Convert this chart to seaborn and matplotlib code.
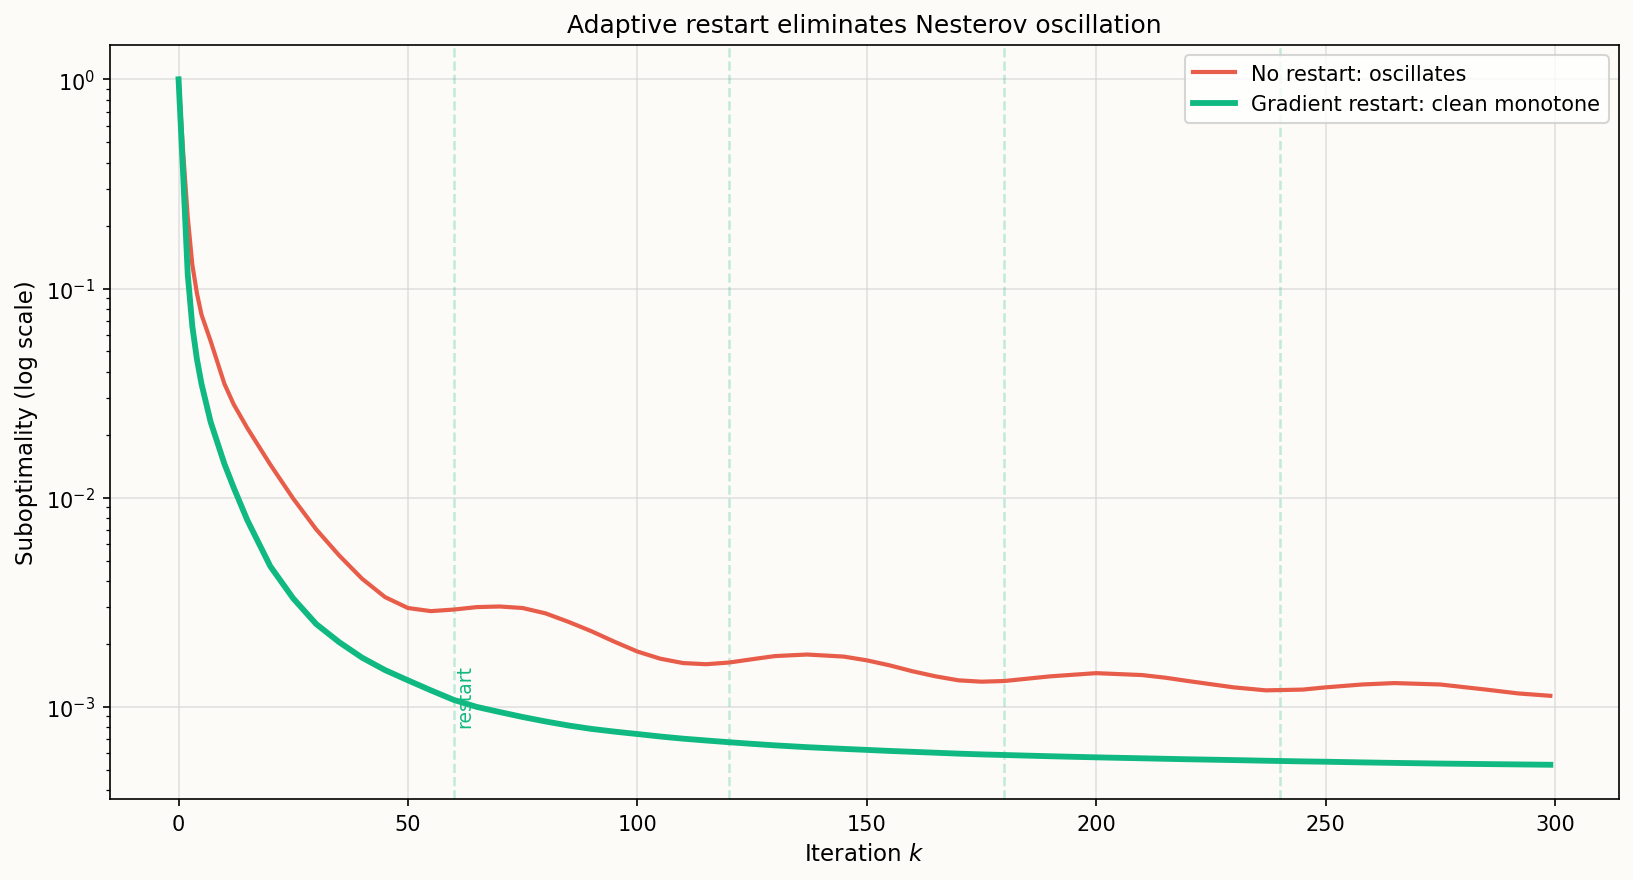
import matplotlib
matplotlib.use("Agg")
import matplotlib.pyplot as plt
import seaborn as sns

# iterations
k = [0, 1, 2, 3, 4, 5, 7, 10, 12, 15, 20, 25, 30, 35, 40, 45, 50, 55, 60, 65,
     70, 75, 80, 85, 90, 95, 100, 105, 110, 115, 120, 125, 130, 137, 145, 150,
     155, 160, 165, 170, 175, 180, 190, 200, 210, 215, 220, 230, 237, 245, 250,
     258, 265, 275, 285, 292, 299]

no_restart = [1.0, 0.45, 0.22, 0.13, 0.095, 0.075, 0.056, 0.035, 0.028, 0.0215,
              0.0144, 0.0099, 0.00706, 0.0053, 0.0041, 0.00335, 0.00297, 0.00287,
              0.00292, 0.00300, 0.00302, 0.00297, 0.00280, 0.00255, 0.00230,
              0.00205, 0.00184, 0.00170, 0.00162, 0.00160, 0.00163, 0.00169,
              0.00175, 0.00178, 0.00174, 0.00167, 0.00158, 0.00148, 0.00140,
              0.00134, 0.00132, 0.00133, 0.00140, 0.00145, 0.00142, 0.00138,
              0.00133, 0.00124, 0.00120, 0.00121, 0.00124, 0.00128, 0.00130,
              0.00128, 0.00121, 0.00116, 0.00113]

grad_restart = [1.0, 0.35, 0.117, 0.066, 0.046, 0.035, 0.023, 0.0145, 0.0112,
                0.0078, 0.0047, 0.0033, 0.00249, 0.00204, 0.00172, 0.00150,
                0.00134, 0.00120, 0.00108, 0.00100, 0.000945, 0.000895,
                0.000852, 0.000815, 0.000785, 0.000762, 0.000742, 0.000722,
                0.000705, 0.000691, 0.000678, 0.000666, 0.000655, 0.000642,
                0.000630, 0.000623, 0.000616, 0.000610, 0.000604, 0.000598,
                0.000593, 0.000589, 0.000581, 0.000574, 0.000568, 0.000565,
                0.000562, 0.000557, 0.000553, 0.000549, 0.000547, 0.000543,
                0.000540, 0.000536, 0.000533, 0.000531, 0.000529]

restarts = [60, 120, 180, 240]

red = "#e85c4a"
green = "#10b981"
bg = "#fcfbf7"

fig, ax = plt.subplots(figsize=(10.893, 5.873), dpi=150)
fig.patch.set_facecolor(bg)
ax.set_facecolor(bg)

for r in restarts:
    ax.axvline(r, color=green, alpha=0.25, linestyle="--", linewidth=1.2)

sns.lineplot(x=k, y=no_restart, ax=ax, color=red, linewidth=2,
             label="No restart: oscillates")
sns.lineplot(x=k, y=grad_restart, ax=ax, color=green, linewidth=2.8,
             label="Gradient restart: clean monotone")

ax.text(60.4, 8.0e-4, "restart", rotation=90, color=green, fontsize=9,
        ha="left", va="bottom")

ax.set_yscale("log")
ax.grid(True, color="#d0d0d0", alpha=0.6, linewidth=0.8)
ax.set_axisbelow(True)
ax.set_xlabel("Iteration $k$", fontsize=11)
ax.set_ylabel("Suboptimality (log scale)", fontsize=11)
ax.set_title("Adaptive restart eliminates Nesterov oscillation", fontsize=12)
ax.legend(loc="upper right", fontsize=10)

fig.subplots_adjust(left=0.0673, right=0.9908, top=0.9478, bottom=0.0919)
fig.savefig("out.png", dpi=150, facecolor=bg)
